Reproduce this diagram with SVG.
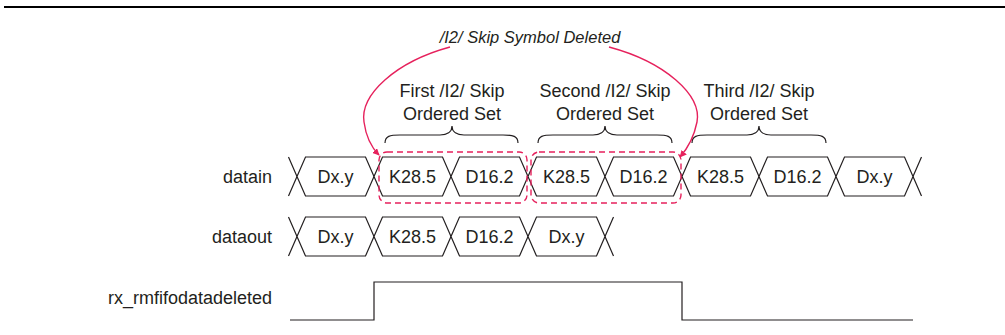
<svg xmlns="http://www.w3.org/2000/svg" width="1005" height="335" viewBox="0 0 1005 335">
<defs>
<style>
.t{font-family:"Liberation Sans",Arial,sans-serif;font-size:18px;fill:#231f20}
.c{text-anchor:middle}
.r{text-anchor:end}
.it{font-family:"Liberation Sans",Arial,sans-serif;font-size:16.5px;font-style:italic;fill:#231f20;text-anchor:middle}
.cell{fill:#fff;stroke:#231f20;stroke-width:1.2;stroke-linejoin:miter}
.ln{fill:none;stroke:#231f20;stroke-width:1.2}
.grp{fill:none;stroke:#e6215c;stroke-width:1.4;stroke-dasharray:6,4}
.arr{fill:none;stroke:#e6215c;stroke-width:1.4}
</style>
<marker id="ah" viewBox="0 0 10 10" refX="9" refY="5" markerWidth="7" markerHeight="7" orient="auto" markerUnits="userSpaceOnUse">
<path d="M0,0 L10,5 L0,10 z" fill="#e6215c"/>
</marker>
</defs>
<rect width="1005" height="335" fill="#fff"/>
<line x1="4" y1="7" x2="1005" y2="7" stroke="#000" stroke-width="2.2"/>

<g id="title"><text class="it" x="530" y="43">/I2/ Skip Symbol Deleted</text></g>

<g id="label-first"><text class="t c" x="452" y="97">First /I2/ Skip</text><text class="t c" x="452" y="120">Ordered Set</text>
<path class="ln" d="M385,143 C385,136 390,135 400,135 L440,135 C447,135 452,132 452,126 C452,132 457,135 464,135 L503,135 C513,135 518,136 518,143"/></g>
<g id="label-second"><text class="t c" x="605" y="97">Second /I2/ Skip</text><text class="t c" x="605" y="120">Ordered Set</text>
<path class="ln" d="M538,143 C538,136 543,135 553,135 L593,135 C600,135 605,132 605,126 C605,132 610,135 617,135 L657,135 C667,135 672,136 672,143"/></g>
<g id="label-third"><text class="t c" x="759" y="97">Third /I2/ Skip</text><text class="t c" x="759" y="120">Ordered Set</text>
<path class="ln" d="M692,143 C692,136 697,135 707,135 L747,135 C754,135 759,132 759,126 C759,132 764,135 771,135 L811,135 C821,135 826,136 826,143"/></g>

<g id="sig-labels">
<text class="t r" x="272" y="183">datain</text>
<text class="t r" x="272" y="243">dataout</text>
<text class="t r" x="272" y="304">rx_rmfifodatadeleted</text>
</g>

<g id="datain">
<path class="ln" d="M288.5,157 L297,176.5 L288.5,196 M913,176.5 L921.5,157 M913,176.5 L921.5,196"/>
<g id="di-1"><polygon class="cell" points="297,176.5 305.5,157 365.5,157 374,176.5 365.5,196 305.5,196"/><text class="t c" x="335.5" y="183">Dx.y</text></g>
<g id="di-2"><polygon class="cell" points="374,176.5 382.5,157 442.5,157 451,176.5 442.5,196 382.5,196"/><text class="t c" x="412.5" y="183">K28.5</text></g>
<g id="di-3"><polygon class="cell" points="451,176.5 459.5,157 519.5,157 528,176.5 519.5,196 459.5,196"/><text class="t c" x="489.5" y="183">D16.2</text></g>
<g id="di-4"><polygon class="cell" points="528,176.5 536.5,157 596.5,157 605,176.5 596.5,196 536.5,196"/><text class="t c" x="566.5" y="183">K28.5</text></g>
<g id="di-5"><polygon class="cell" points="605,176.5 613.5,157 673.5,157 682,176.5 673.5,196 613.5,196"/><text class="t c" x="643.5" y="183">D16.2</text></g>
<g id="di-6"><polygon class="cell" points="682,176.5 690.5,157 750.5,157 759,176.5 750.5,196 690.5,196"/><text class="t c" x="720.5" y="183">K28.5</text></g>
<g id="di-7"><polygon class="cell" points="759,176.5 767.5,157 827.5,157 836,176.5 827.5,196 767.5,196"/><text class="t c" x="797.5" y="183">D16.2</text></g>
<g id="di-8"><polygon class="cell" points="836,176.5 844.5,157 904.5,157 913,176.5 904.5,196 844.5,196"/><text class="t c" x="874.5" y="183">Dx.y</text></g>
</g>

<g id="dataout">
<path class="ln" d="M288.5,217 L297,236.5 L288.5,256 M605,236.5 L613.5,217 M605,236.5 L613.5,256"/>
<g id="do-1"><polygon class="cell" points="297,236.5 305.5,217 365.5,217 374,236.5 365.5,256 305.5,256"/><text class="t c" x="335.5" y="243">Dx.y</text></g>
<g id="do-2"><polygon class="cell" points="374,236.5 382.5,217 442.5,217 451,236.5 442.5,256 382.5,256"/><text class="t c" x="412.5" y="243">K28.5</text></g>
<g id="do-3"><polygon class="cell" points="451,236.5 459.5,217 519.5,217 528,236.5 519.5,256 459.5,256"/><text class="t c" x="489.5" y="243">D16.2</text></g>
<g id="do-4"><polygon class="cell" points="528,236.5 536.5,217 596.5,217 605,236.5 596.5,256 536.5,256"/><text class="t c" x="566.5" y="243">Dx.y</text></g>
</g>

<g id="rx"><polyline class="ln" points="290,320 374,320 374,282 682,282 682,320 913,320"/></g>

<g id="group-1"><rect class="grp" x="379" y="152" width="148" height="51" rx="8"/></g>
<g id="group-2"><rect class="grp" x="531" y="152" width="150" height="51" rx="8"/></g>

<g id="connectors">
<path class="arr" marker-end="url(#ah)" d="M450,47 C395,62 360,95 364,122 C366,137 371,147 379,155"/>
<path class="arr" marker-end="url(#ah)" d="M609,47 C665,62 702,95 697,122 C694,137 688,148 680,157"/>
</g>
</svg>
